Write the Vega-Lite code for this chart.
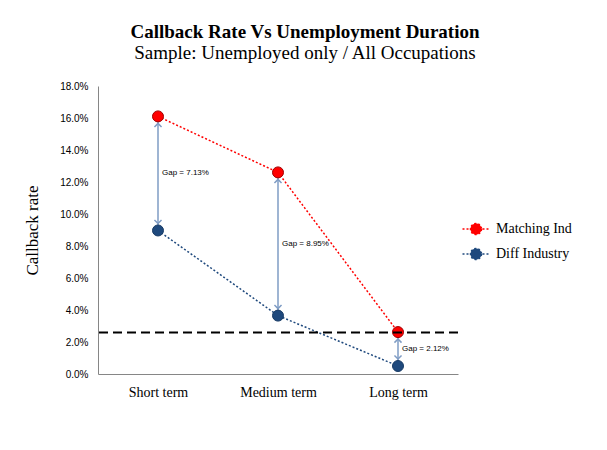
{
  "$schema": "https://vega.github.io/schema/vega-lite/v6.json",
  "autosize": "none",
  "padding": {"left": 98, "top": 86, "right": 149, "bottom": 76},
  "width": 360,
  "height": 288,
  "background": "white",
  "title": {
    "text": "Callback Rate Vs Unemployment Duration",
    "subtitle": "Sample: Unemployed only / All Occupations",
    "font": "Liberation Serif",
    "fontSize": 19,
    "fontWeight": "bold",
    "color": "#000000",
    "subtitleFont": "Liberation Serif",
    "subtitleFontSize": 19,
    "subtitleColor": "#000000",
    "subtitlePadding": 2,
    "anchor": "middle",
    "frame": "group",
    "dx": 27,
    "offset": 18
  },
  "config": {
    "view": {"stroke": null},
    "axis": {"grid": false, "ticks": false, "domainColor": "#868686", "labelOverlap": false},
    "axisY": {"labelOverlap": false},
    "axisQuantitative": {"labelOverlap": false}
  },
  "datasets": {
    "rates": [
      {"term": "Short term", "series": "Matching Ind", "rate": 0.161},
      {"term": "Medium term", "series": "Matching Ind", "rate": 0.126},
      {"term": "Long term", "series": "Matching Ind", "rate": 0.0262},
      {"term": "Short term", "series": "Diff Industry", "rate": 0.0897},
      {"term": "Medium term", "series": "Diff Industry", "rate": 0.0365},
      {"term": "Long term", "series": "Diff Industry", "rate": 0.005}
    ],
    "gaps": [
      {"term": "Short term", "matching": 0.161, "diff": 0.0897, "label": "Gap = 7.13%"},
      {"term": "Medium term", "matching": 0.126, "diff": 0.0365, "label": "Gap = 8.95%"},
      {"term": "Long term", "matching": 0.0262, "diff": 0.005, "label": "Gap = 2.12%"}
    ],
    "baseline": [{"rate": 0.026}]
  },
  "layer": [
    {
      "data": {"name": "rates"},
      "mark": {"type": "line", "strokeDash": [2, 2], "strokeWidth": 1.5},
      "encoding": {
        "x": {
          "field": "term",
          "type": "nominal",
          "scale": {"type": "point", "padding": 0.5, "domain": ["Short term", "Medium term", "Long term"]},
          "axis": {
            "title": null,
            "labelAngle": 0,
            "labelFont": "Liberation Serif",
            "labelFontSize": 14,
            "labelColor": "#000000",
            "labelPadding": 11
          }
        },
        "y": {
          "field": "rate",
          "type": "quantitative",
          "scale": {"domain": [0, 0.18], "nice": false},
          "axis": {
            "title": "Callback rate",
            "titleFont": "Liberation Serif",
            "titleFontSize": 17,
            "titleFontWeight": "normal",
            "titleColor": "#000000",
            "titlePadding": 18,
            "format": ".1%",
            "tickCount": 9,
            "labelOverlap": false,
            "labelFont": "Liberation Sans",
            "labelFontSize": 10,
            "labelColor": "#000000",
            "labelPadding": 10
          }
        },
        "color": {
          "field": "series",
          "type": "nominal",
          "scale": {"domain": ["Matching Ind", "Diff Industry"], "range": ["#FF0000", "#1F497D"]},
          "legend": {
            "title": null,
            "orient": "none",
            "legendX": 367,
            "legendY": 132,
            "padding": 0,
            "symbolType": "M-1.35,0L1.35,0M0.55,0A0.55,0.55,0,1,1,-0.55,0A0.55,0.55,0,1,1,0.55,0Z",
            "symbolSize": 400,
            "symbolStrokeWidth": 1.5,
            "symbolDash": [2, 2],
            "labelFont": "Liberation Serif",
            "labelFontSize": 14,
            "labelColor": "#000000",
            "labelOffset": 9,
            "rowPadding": 5,
            "encode": {
              "symbols": {
                "update": {
                  "fill": {"scale": "color", "field": "value"},
                  "stroke": {"scale": "color", "field": "value"},
                  "fillOpacity": {"value": 1}
                }
              }
            }
          }
        }
      }
    },
    {
      "data": {"name": "gaps"},
      "mark": {"type": "rule", "color": "#7F9CC4", "strokeWidth": 1.5},
      "encoding": {
        "x": {"field": "term", "type": "nominal"},
        "y": {"field": "matching", "type": "quantitative"},
        "y2": {"field": "diff"}
      }
    },
    {
      "data": {"name": "gaps"},
      "mark": {"type": "point", "shape": "M-1,1L0,0L1,1", "filled": false, "size": 50, "strokeWidth": 1.5, "color": "#7F9CC4", "yOffset": 7, "opacity": 1},
      "encoding": {
        "x": {"field": "term", "type": "nominal"},
        "y": {"field": "matching", "type": "quantitative"}
      }
    },
    {
      "data": {"name": "gaps"},
      "mark": {"type": "point", "shape": "M-1,-1L0,0L1,-1", "filled": false, "size": 50, "strokeWidth": 1.5, "color": "#7F9CC4", "yOffset": -7, "opacity": 1},
      "encoding": {
        "x": {"field": "term", "type": "nominal"},
        "y": {"field": "diff", "type": "quantitative"}
      }
    },
    {
      "data": {"name": "rates"},
      "mark": {"type": "point", "filled": true, "size": 121, "opacity": 1, "strokeWidth": 1},
      "encoding": {
        "x": {"field": "term", "type": "nominal"},
        "y": {"field": "rate", "type": "quantitative"},
        "color": {"field": "series", "type": "nominal"},
        "stroke": {
          "field": "series",
          "type": "nominal",
          "scale": {"domain": ["Matching Ind", "Diff Industry"], "range": ["#A00000", "#1A3C66"]},
          "legend": null
        }
      }
    },
    {
      "data": {"name": "baseline"},
      "mark": {"type": "rule", "color": "#000000", "strokeWidth": 2, "strokeDash": [9, 5]},
      "encoding": {
        "y": {"field": "rate", "type": "quantitative"}
      }
    },
    {
      "data": {"name": "gaps"},
      "transform": [{"calculate": "(datum.matching + datum.diff) / 2", "as": "mid"}],
      "mark": {"type": "text", "align": "left", "baseline": "middle", "dx": 4, "font": "Liberation Sans", "fontSize": 8, "color": "#000000"},
      "encoding": {
        "x": {"field": "term", "type": "nominal"},
        "y": {"field": "mid", "type": "quantitative"},
        "text": {"field": "label"}
      }
    }
  ]
}
